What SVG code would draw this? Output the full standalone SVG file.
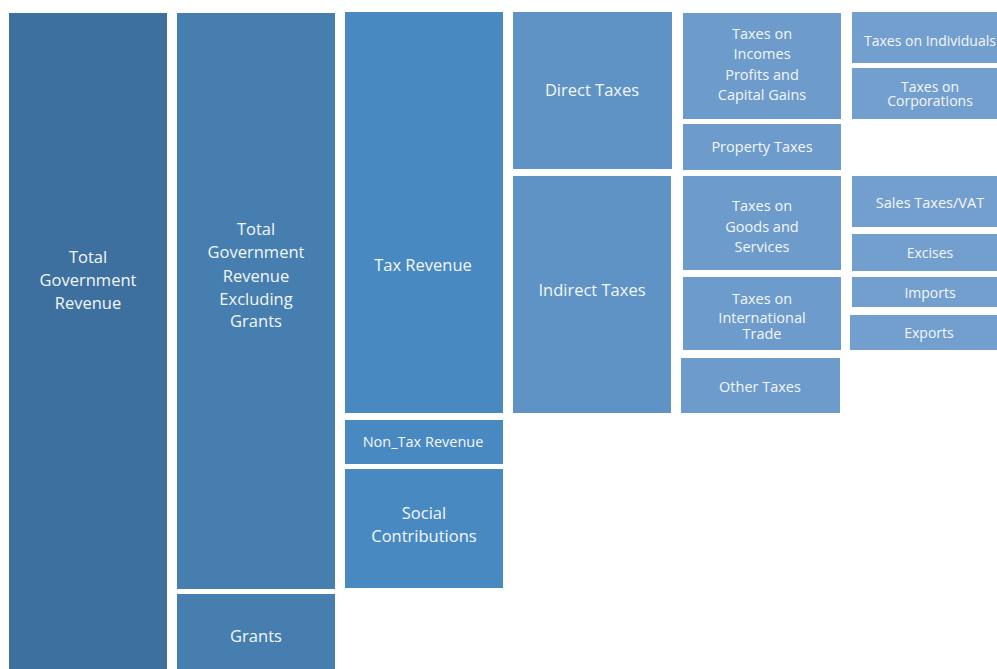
<svg xmlns="http://www.w3.org/2000/svg" width="997" height="669" viewBox="0 0 997 669">
<style>
text{font-family:"Open Sans","Liberation Sans",sans-serif;fill:#F3F7FB;text-anchor:middle}
.b{font-size:16.5px}
.m{font-size:14.5px}
.s{font-size:14px}
.c1{fill:#3D709E}.c2{fill:#457EAF}.c3{fill:#4989C1}.c4{fill:#6093C5}.c5{fill:#6D9BCB}.c6{fill:#739FCE}
</style>
<rect width="997" height="669" fill="#FFFFFF"/>
<g id="connectors"></g>
<g id="total-government-revenue"><rect class="c1" x="9" y="13" width="158" height="656"/>
<text class="b" x="88" y="263">Total</text><text class="b" x="88" y="286">Government</text><text class="b" x="88" y="309">Revenue</text></g>
<g id="total-excl-grants"><rect class="c2" x="177" y="13" width="158" height="576"/>
<text class="b" x="256" y="235">Total</text><text class="b" x="256" y="258">Government</text><text class="b" x="256" y="282">Revenue</text><text class="b" x="256" y="305">Excluding</text><text class="b" x="256" y="327">Grants</text></g>
<g id="grants"><rect class="c2" x="177" y="594" width="158" height="75"/>
<text class="b" x="256" y="642">Grants</text></g>
<g id="tax-revenue"><rect class="c3" x="345" y="12" width="158" height="401"/>
<text class="b" x="423" y="271">Tax Revenue</text></g>
<g id="non-tax-revenue"><rect class="c3" x="345" y="420" width="158" height="44"/>
<text class="m" x="423" y="447">Non_Tax Revenue</text></g>
<g id="social-contributions"><rect class="c3" x="345" y="469" width="158" height="119"/>
<text class="b" x="424" y="519">Social</text><text class="b" x="424" y="542">Contributions</text></g>
<g id="direct-taxes"><rect class="c4" x="513" y="12" width="159" height="157"/>
<text class="b" x="592" y="96">Direct Taxes</text></g>
<g id="indirect-taxes"><rect class="c4" x="513" y="176" width="158" height="237"/>
<text class="b" x="592" y="296">Indirect Taxes</text></g>
<g id="taxes-on-incomes"><rect class="c5" x="683" y="13" width="158" height="106"/>
<text class="m" x="762" y="39">Taxes on</text><text class="m" x="762" y="59">Incomes</text><text class="m" x="762" y="80">Profits and</text><text class="m" x="762" y="100">Capital Gains</text></g>
<g id="property-taxes"><rect class="c5" x="683" y="124" width="158" height="46"/>
<text class="m" x="762" y="152">Property Taxes</text></g>
<g id="taxes-on-goods"><rect class="c5" x="683" y="176" width="158" height="94"/>
<text class="m" x="762" y="211">Taxes on</text><text class="m" x="762" y="232">Goods and</text><text class="m" x="762" y="252">Services</text></g>
<g id="taxes-on-trade"><rect class="c5" x="683" y="277" width="158" height="73"/>
<text class="m" x="762" y="304">Taxes on</text><text class="m" x="762" y="323">International</text><text class="m" x="762" y="339">Trade</text></g>
<g id="other-taxes"><rect class="c5" x="681" y="358" width="159" height="55"/>
<text class="m" x="760" y="392">Other Taxes</text></g>
<g id="taxes-on-individuals"><rect class="c6" x="852" y="12" width="145" height="51"/>
<text class="s" x="930" y="46">Taxes on Individuals</text></g>
<g id="taxes-on-corporations"><rect class="c6" x="852" y="68" width="145" height="51"/>
<text class="s" x="930" y="92">Taxes on</text><text class="s" x="930" y="106">Corporations</text></g>
<g id="sales-taxes"><rect class="c6" x="852" y="176" width="145" height="51"/>
<text class="m" x="930" y="208">Sales Taxes/VAT</text></g>
<g id="excises"><rect class="c6" x="852" y="234" width="145" height="37"/>
<text class="s" x="930" y="258">Excises</text></g>
<g id="imports"><rect class="c6" x="852" y="277" width="145" height="30"/>
<text class="s" x="930" y="298">Imports</text></g>
<g id="exports"><rect class="c6" x="850" y="315" width="147" height="35"/>
<text class="s" x="929" y="338">Exports</text></g>
</svg>
